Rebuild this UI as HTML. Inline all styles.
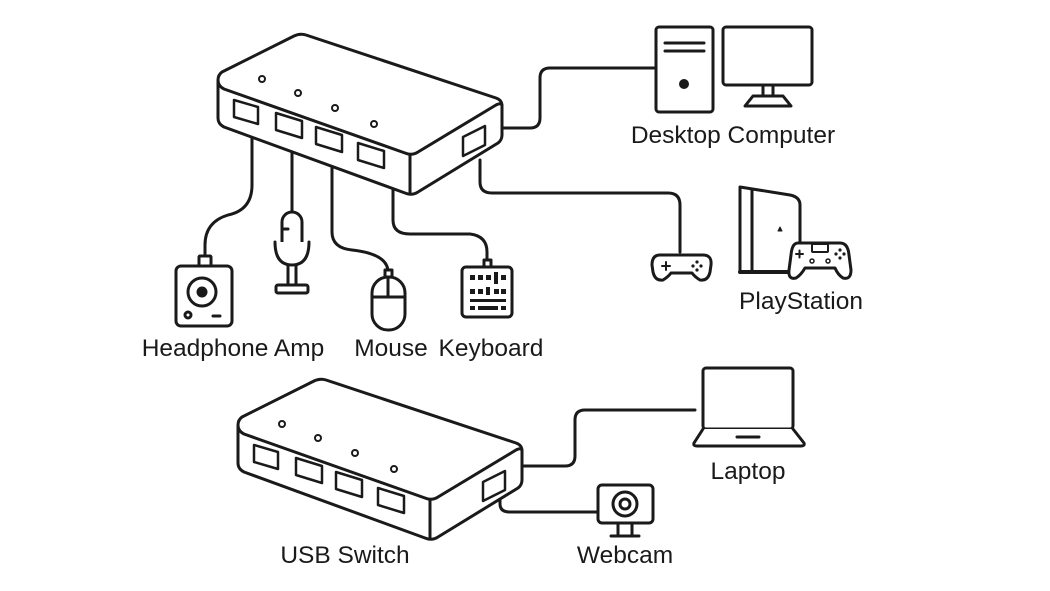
<!DOCTYPE html>
<html><head><meta charset="utf-8"><style>
html,body{margin:0;padding:0;background:#fff;}
svg{display:block}
text{font-family:"Liberation Sans",sans-serif;font-size:24.5px;fill:#1a1a1a;text-anchor:middle}
</style></head><body>
<svg width="1050" height="591" viewBox="0 0 1050 591" xmlns="http://www.w3.org/2000/svg">
<defs>
<g id="hub" fill="#fff" stroke="#1a1a1a" stroke-width="3" stroke-linejoin="round">
  <path d="M218,80 L218,118 Q218,124 224,127 L405,193 Q412,196 418,192 L498,143 Q502,140 502,135 L502,106 Q502,100 496,98 L306,35 Q300,33 294,36 L222,72 Q218,75 218,80 Z"/>
  <path d="M218,80 Q218,86 224,89 L405,153 Q412,156 418,152 L496,105 Q502,102 502,106" fill="none"/>
  <path d="M410,155 L410,194" fill="none"/>
  <g stroke-width="2.5">
    <path d="M234,100 L258,107 L258,124 L234,117 Z"/>
    <path d="M276,113 L302,121 L302,138 L276,130 Z"/>
    <path d="M316,127 L342,135 L342,152 L316,144 Z"/>
    <path d="M358,143 L384,151 L384,168 L358,160 Z"/>
    <path d="M463,137 L485,126 L485,145 L463,156 Z"/>
  </g>
  <g stroke-width="2">
    <circle cx="262" cy="79" r="3"/><circle cx="298" cy="93" r="3"/>
    <circle cx="335" cy="108" r="3"/><circle cx="374" cy="124" r="3"/>
  </g>
</g>
</defs>
<g fill="none" stroke="#1a1a1a" stroke-width="3" stroke-linecap="round" stroke-linejoin="round">
  <path d="M252,132 L252,185 Q252,210 228,215 Q205,222 205,245 L205,258"/>
  <path d="M292,145 L292,212"/>
  <path d="M332,160 L332,232 Q332,248 352,250 Q388,254 388,272"/>
  <path d="M393,185 L393,220 Q393,234 410,234 L470,234 Q487,236 487,252 L487,262"/>
  <path d="M502,128 L530,128 Q540,128 540,118 L540,78 Q540,68 550,68 L655,68"/>
  <path d="M480,160 L480,182 Q480,193 492,193 L668,193 Q680,193 680,205 L680,252"/>
  <path d="M522,466 L565,466 Q575,466 575,456 L575,420 Q575,410 585,410 L695,410"/>
  <path d="M500,494 L500,504 Q500,512 510,512 L598,512"/>
</g>
<use href="#hub"/>
<use href="#hub" transform="translate(20,345)"/>
<g fill="#fff" stroke="#1a1a1a" stroke-width="3" stroke-linejoin="round" stroke-linecap="round">
  <rect x="199" y="256" width="12" height="10" rx="1"/>
  <rect x="176" y="266" width="56" height="60" rx="5"/>
  <circle cx="202" cy="292" r="14"/>
  <circle cx="202" cy="292" r="4" fill="#1a1a1a"/>
  <circle cx="188" cy="315" r="3"/>
  <path d="M213,316 L220,316"/>
  <rect x="282" y="212" width="20" height="44" rx="10"/>
  <path d="M275,242 Q275,265 292,265 Q309,265 309,242"/>
  <path d="M288,265 L288,285 M296,265 L296,285"/>
  <rect x="276" y="285" width="32" height="8" rx="2"/>
  <path d="M283,229 L288,229"/>
  <rect x="385" y="270" width="7" height="7"/>
  <rect x="372" y="277" width="33" height="53" rx="16"/>
  <path d="M372,297 L405,297 M388,277 L388,297"/>
  <rect x="484" y="260" width="7" height="7"/>
  <rect x="462" y="267" width="50" height="50" rx="4"/>
  <g stroke-width="0" fill="#1a1a1a">
    <rect x="470" y="275" width="5" height="5"/><rect x="478" y="275" width="5" height="5"/><rect x="486" y="275" width="5" height="5"/><rect x="494" y="272" width="4" height="12"/><rect x="501" y="275" width="5" height="5"/>
    <rect x="470" y="289" width="5" height="5"/><rect x="478" y="289" width="5" height="5"/><rect x="486" y="287" width="4" height="8"/><rect x="494" y="289" width="5" height="5"/><rect x="501" y="289" width="5" height="5"/>
    <rect x="470" y="299" width="36" height="3"/>
    <rect x="470" y="306" width="5" height="4"/><rect x="478" y="306" width="20" height="4"/><rect x="501" y="306" width="5" height="4"/>
  </g>
  <rect x="656" y="27" width="57" height="85" rx="3"/>
  <path d="M665,43 L704,43 M665,51 L704,51"/>
  <circle cx="684" cy="84" r="3.5" fill="#1a1a1a"/>
  <rect x="723" y="27" width="89" height="58" rx="3"/>
  <path d="M763,85 L763,96 M773,85 L773,96"/>
  <path d="M745,106 L753,96 L783,96 L791,106 Z"/>
  <path d="M660,255 L703,255 Q712,255 711,265 L710,272 Q708,281 700,280 Q695,277 692,273 L671,273 Q668,277 663,280 Q655,281 653,272 L652,265 Q652,255 660,255 Z"/>
  <path d="M662,266 L670,266 M666,262 L666,270" stroke-width="2"/>
  <g stroke-width="0" fill="#1a1a1a"><circle cx="697" cy="262" r="1.6"/><circle cx="697" cy="270" r="1.6"/><circle cx="693" cy="266" r="1.6"/><circle cx="701" cy="266" r="1.6"/></g>
  <path d="M740,187 L790,195 Q800,197 800,205 L800,272 L740,272 Z"/>
  <path d="M752,189 L752,272"/>
  <path d="M740,272 L800,272" stroke-width="4"/>
  <path d="M782,231 L778,231 L780,227 Z" fill="#1a1a1a" stroke-width="1"/>
  <path d="M798,243 L840,243 Q848,243 849,255 L851,270 Q851,280 843,278 Q838,275 835,268 L805,268 Q801,275 796,278 Q788,280 789,270 L791,255 Q792,243 798,243 Z"/>
  <rect x="812" y="244" width="16" height="8" rx="1" stroke-width="2"/>
  <path d="M796,254 L803,254 M799.5,250.5 L799.5,257.5" stroke-width="2"/>
  <circle cx="812" cy="261" r="2" stroke-width="1.5"/><circle cx="828" cy="261" r="2" stroke-width="1.5"/>
  <g stroke-width="0" fill="#1a1a1a"><circle cx="840" cy="250" r="1.6"/><circle cx="840" cy="258" r="1.6"/><circle cx="836" cy="254" r="1.6"/><circle cx="844" cy="254" r="1.6"/></g>
  <rect x="703" y="368" width="90" height="61" rx="3"/>
  <path d="M703,429 L694,443 Q693,446 697,446 L801,446 Q805,446 804,443 L793,429"/>
  <path d="M737,437 L759,437"/>
  <rect x="598" y="485" width="55" height="38" rx="4"/>
  <circle cx="625" cy="504" r="12"/>
  <circle cx="625" cy="504" r="5"/>
  <path d="M618,523 L618,535 M632,523 L632,535 M611,536 L639,536"/>
</g>
<text x="233" y="356">Headphone Amp</text>
<text x="391" y="356">Mouse</text>
<text x="491" y="356">Keyboard</text>
<text x="733" y="143">Desktop Computer</text>
<text x="801" y="309">PlayStation</text>
<text x="748" y="479">Laptop</text>
<text x="345" y="563">USB Switch</text>
<text x="625" y="563">Webcam</text>
</svg>
</body></html>
